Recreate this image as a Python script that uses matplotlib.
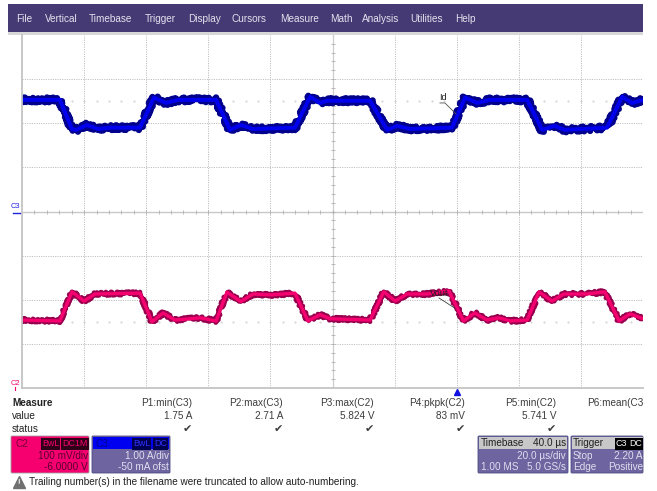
import matplotlib
matplotlib.use("Agg")
import matplotlib.pyplot as plt
from matplotlib.patches import Rectangle, FancyBboxPatch

W, H = 657, 491

menu_items = ["File", "Vertical", "Timebase", "Trigger", "Display", "Cursors",
              "Measure", "Math", "Analysis", "Utilities", "Help"]
menu_x = [16, 45, 89, 145, 188, 232, 280, 330, 362, 410, 455]

# traces, time in us (20 us/div), level in divisions from the bottom
id_t = [0, 12.2, 16.1, 17.4, 20.9, 24.5, 28.3, 38.0, 42.5, 46.4, 50.2, 62.5, 67.0, 70.5, 74.4, 87.9,
        92.8, 96.0, 98.2, 112.1, 117.6, 120.8, 125.0, 138.5, 142.7, 146.6, 150.7, 162.7, 167.5, 171.4,
        174.9, 188.4, 193.3, 196.5, 200]
id_y = [6.53, 6.53, 5.87, 5.85, 5.96, 5.87, 5.90, 5.90, 6.58, 6.46, 6.53, 6.53, 5.85, 5.96, 5.87, 5.90,
        6.60, 6.46, 6.51, 6.51, 5.85, 5.94, 5.87, 5.90, 6.58, 6.46, 6.53, 6.53, 5.85, 5.94,
        5.85, 5.90, 6.60, 6.46, 6.53]

vout_t = [0, 12.2, 16.1, 20.0, 23.5, 38.0, 41.9, 45.4, 49.3, 57.3, 62.5, 66.0, 70.5, 74.4, 80.0, 87.9,
          92.1, 96.0, 99.2, 112.1, 116.5, 120.2, 124.0, 130.5, 137.5, 142.2, 145.8, 149.8, 153.6, 157.3,
          162.7, 166.5, 170.7, 174.5, 181.9, 187.7, 192.3, 195.8, 200]
vout_y = [1.54, 1.52, 2.18, 1.97, 2.13, 2.15, 1.50, 1.70, 1.54, 1.59, 1.52, 2.17, 1.96, 2.13, 2.11, 2.15,
          1.52, 1.66, 1.57, 1.54, 2.18, 1.97, 2.13, 2.13, 2.20, 1.52, 1.70, 1.54, 1.59, 1.52,
          1.54, 2.18, 1.97, 2.13, 2.13, 2.18, 1.52, 1.68, 1.57]

measure_names = ["P1:min(C3)", "P2:max(C3)", "P3:max(C2)", "P4:pkpk(C2)", "P5:min(C2)", "P6:mean(C3"]
measure_vals = ["1.75 A", "2.71 A", "5.824 V", "83 mV", "5.741 V", ""]
measure_right = [192, 283, 374, 465, 556, 643]

MENU = "#463a74"
PANEL = "#6d64a0"
PINK = "#f5006e"
GRID = "#c0c0c0"
GREY = "#3c3c3c"
FS = 7.2

plt.rcParams["font.family"] = ["Liberation Sans", "DejaVu Sans"]
fig = plt.figure(figsize=(W / 100, H / 100), dpi=100, facecolor="white")

# whole-figure axes in pixels for the instrument panels
ui = fig.add_axes([0, 0, 1, 1])
ui.set_xlim(0, W)
ui.set_ylim(H, 0)
ui.axis("off")


def box(x, y, w, h, color, edge=None):
    ui.add_patch(FancyBboxPatch((x + 1, y + 1), w - 2, h - 2, boxstyle="round,pad=1", fc=color,
                                ec=edge or color, lw=0.6))


ui.add_patch(Rectangle((8, 4), 635, 28, fc=MENU, ec="none"))
ui.add_patch(Rectangle((8, 32), 635, 3, fc="#d8d8d8", ec="none"))
for label, x in zip(menu_items, menu_x):
    ui.text(x, 18.5, label, color="#e4e2ee", fontsize=FS, va="center")

# scope screen
ax = fig.add_axes([22 / W, 1 - 388 / H, 621 / W, 353 / H])
ax.set_xlim(0, 200)
ax.set_ylim(0, 8)
ax.set_xticks(range(20, 200, 20))
ax.set_yticks(range(1, 8))
ax.tick_params(length=0, labelbottom=False, labelleft=False)
ax.grid(True, color=GRID, lw=0.7, ls=(0, (1.2, 1.2)))
ax.set_axisbelow(True)
for side in ["top", "right"]:
    ax.spines[side].set_visible(False)
for side in ["left", "bottom"]:
    ax.spines[side].set_color("#c4c4c4")
    ax.spines[side].set_linewidth(1.3)

# centre graticule with its small ticks
ax.axvline(100, color="#cccccc", lw=0.9)
ax.axhline(4, color="#c8c8c8", lw=1.0)
ax.plot([100] * 39, [i * 0.2 for i in range(1, 40)], ls="none", marker="_", ms=3, color="#b0b0b0", mew=0.6)
ax.plot([i * 4 for i in range(1, 50)], [4] * 49, ls="none", marker="|", ms=3, color="#b0b0b0", mew=0.6)
for level in [6.5, 1.5]:
    ax.plot([i * 4 for i in range(1, 50)], [level] * 49, ls="none", marker=".", ms=0.8, color="#c4c4c4")

# dark jittered envelope under a bright core, the jitter comes from the line sketch style
line, = ax.plot(id_t, id_y, color="#00008c", lw=4.6, solid_joinstyle="round")
line.set_sketch_params(2.4, 0.8, 4)
ax.plot(id_t, id_y, color="#0000ee", lw=2.8, solid_joinstyle="round")
line, = ax.plot(vout_t, vout_y, color="#96004e", lw=3.4, solid_joinstyle="round")
line.set_sketch_params(1.8, 0.8, 4)
ax.plot(vout_t, vout_y, color=PINK, lw=2.4, solid_joinstyle="round")

# probe annotations
ax.text(135.6, 6.58, "Id", fontsize=6.6, ha="center", va="center", color="#202020")
ax.plot([134.6, 136.2, 139.8], [6.46, 6.46, 6.21], color="#505050", lw=0.6)
ax.text(131.4, 2.15, "Vout", fontsize=6.6, ha="left", va="center", color="#202020")
ax.plot([134.3, 139.4], [2.04, 1.81], color="#404040", lw=0.6)

# channel markers and trigger arrow
ui.text(15.5, 207, "C3", color="#2020e0", fontsize=5.4, ha="center", va="center")
ui.plot([13, 21], [213, 213], color="#2020e0", lw=1.0)
ui.text(15.5, 383.5, "C2", color=PINK, fontsize=5.4, ha="center", va="center")
ui.plot([15, 15], [387, 390], color=PINK, lw=0.8)
ui.plot([457], [392], marker="^", ms=4, color="#1010e0")

# measure table
ui.text(12, 403, "Measure", fontsize=FS, fontweight="bold", color="#222222", va="center")
ui.text(12, 416, "value", fontsize=FS, color="#222222", va="center")
ui.text(12, 429, "status", fontsize=FS, color="#222222", va="center")
for name, val, x in zip(measure_names, measure_vals, measure_right):
    ui.text(x, 403, name, fontsize=FS, color=GREY, ha="right", va="center")
    ui.text(x, 416, val, fontsize=FS, color=GREY, ha="right", va="center")
    if val:
        ui.text(x - 5, 429, "\u2714", fontsize=8, color=GREY, ha="center", va="center",
                family="DejaVu Sans")

# channel boxes
box(11, 436, 78, 37, PINK, "#a0a0a0")
ui.text(15, 444, "C2", fontsize=FS, color="#7a0038", va="center")
ui.text(42, 444, "BwL", fontsize=6.4, color=PINK, va="center", bbox=dict(fc="#300018", ec="none", pad=0.8))
ui.text(62.5, 444, "DC1M", fontsize=6.4, color=PINK, va="center", bbox=dict(fc="#300018", ec="none", pad=0.8))
ui.text(88, 456, "100 mV/div", fontsize=FS, color="#5a0030", ha="right", va="center")
ui.text(88, 467, "-6.0000 V", fontsize=FS, color="#5a0030", ha="right", va="center")

box(92, 436, 78, 37, PANEL, "#4a4a80")
ui.add_patch(Rectangle((93, 437), 76, 12, fc="#0000f0", ec="none"))
ui.text(95, 444, "C3", fontsize=FS, color="#000090", va="center")
ui.text(133, 444, "BwL", fontsize=6.4, color="#3030ff", va="center", bbox=dict(fc="#000050", ec="none", pad=0.8))
ui.text(154, 444, "DC", fontsize=6.4, color="#3030ff", va="center", bbox=dict(fc="#000050", ec="none", pad=0.8))
ui.text(169, 456, "1.00 A/div", fontsize=FS, color="#e0deee", ha="right", va="center")
ui.text(169, 467, "-50 mA ofst", fontsize=FS, color="#e0deee", ha="right", va="center")

box(478, 436, 90, 37, PANEL, "#4a4a80")
ui.add_patch(Rectangle((479, 437), 88, 12, fc="#c8c8c8", ec="none"))
ui.text(481, 443.5, "Timebase", fontsize=FS, color="#202020", va="center")
ui.text(566, 443.5, "40.0 \u00b5s", fontsize=FS, color="#202020", ha="right", va="center")
ui.text(566, 456, "20.0 \u00b5s/div", fontsize=FS, color="#e0deee", ha="right", va="center")
ui.text(481, 467, "1.00 MS", fontsize=FS, color="#e0deee", va="center")
ui.text(566, 467, "5.0 GS/s", fontsize=FS, color="#e0deee", ha="right", va="center")

box(571, 436, 72, 37, PANEL, "#4a4a80")
ui.add_patch(Rectangle((572, 437), 71, 12, fc="#c8c8c8", ec="none"))
ui.text(573, 443.5, "Trigger", fontsize=FS, color="#202020", va="center")
ui.text(616, 444, "C3", fontsize=6.4, color="white", va="center", bbox=dict(fc="black", ec="none", pad=0.8))
ui.text(629, 444, "DC", fontsize=6.4, color="white", va="center", bbox=dict(fc="black", ec="none", pad=0.8))
ui.text(573, 456, "Stop", fontsize=FS, color="#e0deee", va="center")
ui.text(643, 456, "2.20 A", fontsize=FS, color="#e0deee", ha="right", va="center")
ui.text(573, 467, "Edge", fontsize=FS, color="#e0deee", va="center")
ui.text(643, 467, "Positive", fontsize=FS, color="#e0deee", ha="right", va="center")

# warning line
ui.plot([19], [482], marker="^", ms=9, color="#707070")
ui.text(19, 483, "!", fontsize=5.5, color="white", ha="center", va="center", fontweight="bold")
ui.text(29, 482, "Trailing number(s) in the filename were truncated to allow auto-numbering.",
        fontsize=FS, color="#202020", va="center")

fig.savefig("out.png", dpi=100)
